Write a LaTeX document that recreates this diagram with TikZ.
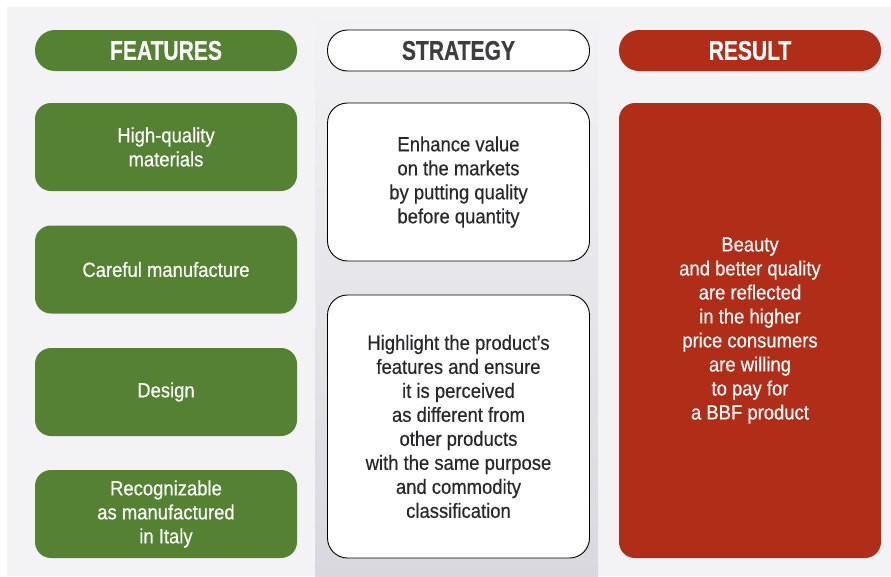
\documentclass[tikz,border=0pt]{standalone}
\usepackage{fontspec}
\setmainfont[FakeStretch=0.9, FakeBold=0.35, BoldFeatures={FakeStretch=0.78}]{Liberation Sans}

\definecolor{featgreen}{RGB}{84,130,50}
\definecolor{resred}{RGB}{176,45,24}
\definecolor{stratgray}{RGB}{40,40,42}
\definecolor{headgray}{RGB}{62,62,64}
\definecolor{panelgray}{RGB}{243,243,246}
\definecolor{bandgray}{RGB}{216,216,222}

\tikzset{
	pill/.style={rounded corners=20pt, minimum width=262pt, minimum height=41pt, inner sep=0pt,
		font=\fontsize{27}{30}\selectfont\bfseries},
	card/.style={rounded corners=16pt, minimum width=262pt, inner sep=0pt, align=center,
		font=\fontsize{20.5}{24}\selectfont},
	featbox/.style={card, fill=featgreen, text=white, minimum height=88pt},
	stratbox/.style={card, draw=black, line width=0.9pt, fill=white, text=stratgray, rounded corners=20pt},
}

\begin{document}
\begin{tikzpicture}[x=1pt, y=-1pt]
	\useasboundingbox (0,0) rectangle (891,576);
	% background panel and middle band
	\fill[panelgray] (7,7) rectangle (891,576);
	\shade[top color=panelgray, bottom color=bandgray] (315,7) rectangle (598,576);

	% column headers
	\node[pill, fill=featgreen, text=white] (feathead) at (166,50.5) {FEATURES};
	\node[pill, draw=black, line width=0.9pt, fill=white, text=headgray] (strathead) at (458.5,50.5) {STRATEGY};
	\node[pill, fill=resred, text=white] (reshead) at (750,50.5) {RESULT};

	% features
	\node[featbox] (quality) at (166,147) {High-quality\\materials};
	\node[featbox] (manuf) at (166,269.5) {Careful manufacture};
	\node[featbox] (design) at (166,392) {Design};
	\node[featbox] (italy) at (166,514) {Recognizable\\as manufactured\\in Italy};

	% strategy
	\node[stratbox, minimum height=158pt] (value) at (458.5,182)
		{Enhance value\\on the markets\\by putting quality\\before quantity};
	\node[stratbox, minimum height=263pt] (highlight) at (458.5,426.5)
		{Highlight the product’s\\features and ensure\\it is perceived\\as different from\\other products\\with the same purpose\\and commodity\\classification};

	% result
	\node[card, fill=resred, text=white, minimum height=455pt] (beauty) at (750,330.5)
		{Beauty\\and better quality\\are reflected\\in the higher\\price consumers\\are willing\\to pay for\\a BBF product};
\end{tikzpicture}
\end{document}
